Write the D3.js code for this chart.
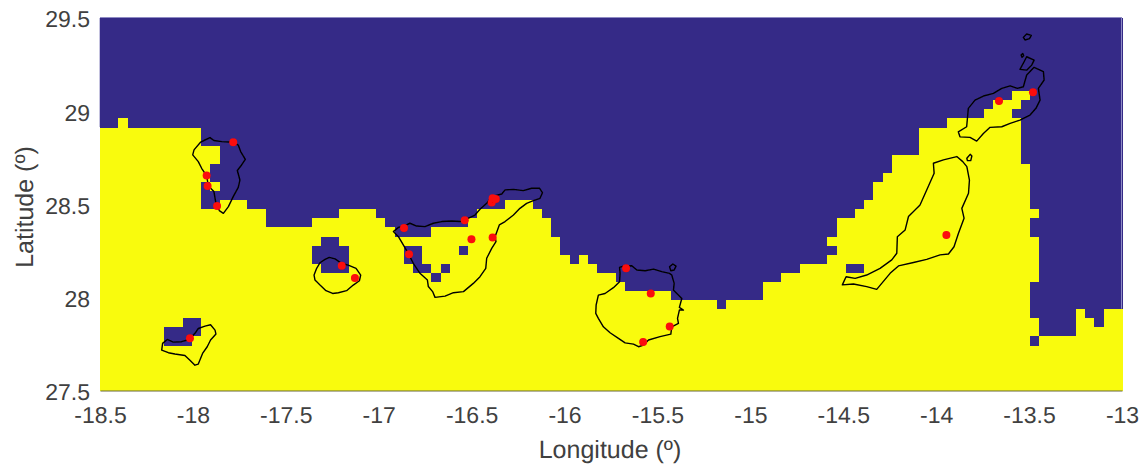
<!DOCTYPE html>
<html>
<head>
<meta charset="utf-8">
<script src="https://cdnjs.cloudflare.com/ajax/libs/d3/7.8.5/d3.min.js"></script>
<style>
html,body{margin:0;padding:0;background:#fff}
text{font-family:"Liberation Sans",Arial,sans-serif;fill:#404040;text-rendering:geometricPrecision}
</style>
</head>
<body>
<svg id="c" width="1143" height="464"></svg>
<script>
const lonTicks=[-18.5,-18,-17.5,-17,-16.5,-16,-15.5,-15,-14.5,-14,-13.5,-13];
const latTicks=[27.5,28,28.5,29,29.5];
const nCols=111,nRows=41;
// yellow cells per longitude column counted from the south edge
const yellowRows=[29,29,30,29,29,29,29,29,29,29,29,27,27,21,21,21,20,20,18,18,18,18,18,19,19,19,20,20,20,20,19,18,17,17,17,17,18,18,18,18,19,20,20,20,21,21,21,20,19,17,15,14,15,14,13,13,12,11,11,11,11,11,10,10,10,10,10,9,10,10,10,10,12,12,13,13,14,14,14,17,19,19,20,21,23,24,26,26,26,29,29,29,30,30,30,30,31,32,32,33,33,20,6,6,6,6,9,8,7,9,9];
// land-sea exceptions: [column, first row, last row exclusive]
const blueRuns=[[7,5,7],[8,5,7],[9,5,8],[10,6,8],[11,20,23],[12,20,22],[12,23,25],[23,14,16],[24,13,17],[25,13,17],[26,13,16],[33,14,16],[34,13,16],[35,13,14],[36,12,13],[37,13,14],[39,15,16],[79,15,16],[81,13,14],[82,13,14],[99,30,31],[100,25,32],[101,5,6],[101,8,12],[101,17,19]];
const laPalma=[[-17.958,28.834],[-17.935,28.845],[-17.908,28.858],[-17.887,28.842],[-17.845,28.836],[-17.783,28.833],[-17.756,28.818],[-17.743,28.783],[-17.718,28.741],[-17.738,28.711],[-17.761,28.681],[-17.747,28.630],[-17.756,28.591],[-17.783,28.541],[-17.809,28.487],[-17.836,28.451],[-17.858,28.466],[-17.876,28.505],[-17.887,28.568],[-17.917,28.598],[-17.926,28.652],[-17.953,28.693],[-17.971,28.729],[-18.001,28.765],[-17.994,28.792]];
const laGomera=[[-17.316,28.186],[-17.289,28.204],[-17.266,28.215],[-17.235,28.207],[-17.199,28.182],[-17.164,28.173],[-17.122,28.156],[-17.097,28.120],[-17.104,28.089],[-17.137,28.066],[-17.173,28.036],[-17.217,28.025],[-17.248,28.021],[-17.284,28.036],[-17.316,28.066],[-17.343,28.093],[-17.348,28.120],[-17.334,28.156]];
const elHierro=[[-18.168,27.717],[-18.163,27.753],[-18.138,27.774],[-18.106,27.760],[-18.061,27.762],[-18.019,27.774],[-17.989,27.807],[-17.971,27.833],[-17.935,27.846],[-17.905,27.853],[-17.881,27.824],[-17.876,27.803],[-17.905,27.771],[-17.923,27.735],[-17.948,27.699],[-17.971,27.642],[-17.989,27.636],[-18.016,27.663],[-18.043,27.688],[-18.097,27.696],[-18.132,27.703]];
const tenerife=[[-16.921,28.353],[-16.894,28.376],[-16.864,28.383],[-16.832,28.398],[-16.796,28.383],[-16.751,28.380],[-16.706,28.398],[-16.661,28.407],[-16.607,28.410],[-16.562,28.407],[-16.536,28.416],[-16.482,28.442],[-16.455,28.473],[-16.419,28.505],[-16.392,28.541],[-16.338,28.555],[-16.320,28.577],[-16.275,28.580],[-16.222,28.573],[-16.177,28.586],[-16.135,28.586],[-16.119,28.562],[-16.132,28.532],[-16.168,28.519],[-16.204,28.505],[-16.240,28.478],[-16.275,28.442],[-16.320,28.407],[-16.351,28.389],[-16.374,28.326],[-16.369,28.299],[-16.392,28.263],[-16.419,28.210],[-16.424,28.156],[-16.455,28.111],[-16.491,28.075],[-16.544,28.031],[-16.598,28.025],[-16.643,28.007],[-16.697,28.000],[-16.710,28.031],[-16.733,28.058],[-16.738,28.093],[-16.778,28.129],[-16.814,28.183],[-16.841,28.236],[-16.867,28.281],[-16.894,28.326]];
const granCanaria=[[-15.704,28.161],[-15.683,28.168],[-15.638,28.170],[-15.611,28.147],[-15.566,28.143],[-15.521,28.152],[-15.477,28.138],[-15.435,28.129],[-15.423,28.120],[-15.410,28.075],[-15.414,28.039],[-15.369,27.994],[-15.382,27.946],[-15.360,27.932],[-15.382,27.932],[-15.392,27.887],[-15.387,27.860],[-15.423,27.842],[-15.428,27.803],[-15.486,27.789],[-15.548,27.771],[-15.575,27.744],[-15.602,27.735],[-15.629,27.749],[-15.674,27.756],[-15.710,27.780],[-15.755,27.810],[-15.791,27.842],[-15.818,27.887],[-15.832,27.914],[-15.830,27.959],[-15.818,28.012],[-15.782,28.021],[-15.737,28.052],[-15.704,28.084],[-15.701,28.129]];
const laIsleta=[[-15.435,28.164],[-15.417,28.179],[-15.400,28.168],[-15.410,28.147],[-15.428,28.143]];
const fuerteventura=[[-14.015,28.720],[-13.961,28.738],[-13.889,28.756],[-13.857,28.729],[-13.835,28.702],[-13.821,28.630],[-13.826,28.559],[-13.862,28.478],[-13.850,28.425],[-13.880,28.344],[-13.904,28.272],[-13.934,28.233],[-13.979,28.228],[-14.051,28.204],[-14.122,28.187],[-14.203,28.169],[-14.248,28.129],[-14.320,28.043],[-14.374,28.058],[-14.445,28.072],[-14.505,28.067],[-14.485,28.111],[-14.436,28.102],[-14.374,28.120],[-14.302,28.156],[-14.239,28.201],[-14.212,28.237],[-14.209,28.326],[-14.167,28.362],[-14.149,28.434],[-14.087,28.496],[-14.051,28.577],[-14.011,28.666]];
const lobos=[[-13.835,28.747],[-13.817,28.768],[-13.808,28.759],[-13.814,28.734],[-13.832,28.734]];
const lanzarote=[[-13.881,28.889],[-13.836,28.916],[-13.827,29.015],[-13.791,29.059],[-13.746,29.081],[-13.692,29.095],[-13.647,29.122],[-13.602,29.136],[-13.563,29.122],[-13.531,29.131],[-13.513,29.194],[-13.473,29.235],[-13.423,29.212],[-13.419,29.167],[-13.450,29.122],[-13.441,29.059],[-13.463,29.015],[-13.495,28.979],[-13.549,28.952],[-13.602,28.934],[-13.647,28.916],[-13.710,28.913],[-13.746,28.880],[-13.782,28.839],[-13.818,28.859],[-13.872,28.862]];
const graciosa=[[-13.549,29.224],[-13.527,29.265],[-13.513,29.292],[-13.473,29.274],[-13.486,29.247],[-13.513,29.220]];
const montanaClara=[[-13.543,29.301],[-13.534,29.310],[-13.529,29.297],[-13.538,29.289]];
const alegranza=[[-13.531,29.396],[-13.513,29.414],[-13.488,29.407],[-13.498,29.389],[-13.522,29.382]];
const sites=[[-17.783,28.833],[-17.926,28.655],[-17.921,28.598],[-17.870,28.491],[-17.199,28.170],[-17.128,28.104],[-18.016,27.780],[-16.864,28.373],[-16.837,28.231],[-16.537,28.414],[-16.501,28.312],[-16.387,28.321],[-16.392,28.510],[-16.387,28.532],[-16.370,28.528],[-15.669,28.157],[-15.536,28.021],[-15.434,27.844],[-15.577,27.760],[-13.945,28.335],[-13.662,29.054],[-13.479,29.102]];

const x=d3.scaleLinear().domain([-18.5,-13]).range([100,1122]);
const y=d3.scaleLinear().domain([27.5,29.5]).range([390.5,18]);
const colX=d3.scaleLinear().domain([0,nCols]).range(x.domain());
const rowY=d3.scaleLinear().domain([0,nRows]).range(y.domain());
const color=d3.scaleOrdinal().domain([0,1]).range(["#352a87","#f9fb0e"]);

const cells=[];
yellowRows.forEach((h,c)=>{ for(let r=0;r<nRows;r++){
  const sea=r>=h||blueRuns.some(b=>b[0]===c&&r>=b[1]&&r<b[2]);
  cells.push({c,r,v:sea?0:1});
}});
const svg=d3.select("#c");
const soft=svg.append("defs").append("filter").attr("id","soft").attr("x","-2%").attr("y","-2%").attr("width","104%").attr("height","104%");
soft.append("feGaussianBlur").attr("stdDeviation",0.35);
const plot=svg.append("g").attr("filter","url(#soft)");
plot.append("g").attr("shape-rendering","crispEdges").selectAll("rect").data(cells).join("rect")
  .attr("x",d=>x(colX(d.c))).attr("y",d=>y(rowY(d.r+1)))
  .attr("width",d=>x(colX(d.c+1))-x(colX(d.c))+0.5)
  .attr("height",d=>y(rowY(d.r))-y(rowY(d.r+1))+0.5)
  .attr("fill",d=>color(d.v));

const line=d3.line().x(d=>x(d[0])).y(d=>y(d[1])).curve(d3.curveLinearClosed);
plot.append("g").selectAll("path").data([laPalma,laGomera,elHierro,tenerife,granCanaria,laIsleta,fuerteventura,lobos,lanzarote,graciosa,montanaClara,alegranza]).join("path")
  .attr("d",line).attr("fill","none").attr("stroke","#000").attr("stroke-width",1.4).attr("stroke-linejoin","round");

plot.append("g").selectAll("circle").data(sites).join("circle")
  .attr("cx",d=>x(d[0])).attr("cy",d=>y(d[1])).attr("r",4).attr("fill","#fb0808");

const ax=svg.append("g").attr("transform","translate(0,390.5)").call(d3.axisBottom(x).tickValues(lonTicks).tickSize(0).tickFormat(d=>String(d)));
const ay=svg.append("g").attr("transform","translate(100,0)").call(d3.axisLeft(y).tickValues(latTicks).tickSize(0).tickFormat(d=>String(d)));
ax.select(".domain").attr("stroke","#66663c").attr("stroke-width",1);
ay.select(".domain").remove();
ax.selectAll("text").attr("font-size",23).attr("y",16.5).attr("fill","#404040");
ay.selectAll("text").attr("font-size",23).attr("x",-10).attr("dy","0.39em").attr("fill","#404040");
// light box edges visible only over the sea colour
const edge="#8f8bc4";
svg.append("line").attr("x1",x(-18.5)).attr("x2",x(-13)).attr("y1",y(29.5)-0.5).attr("y2",y(29.5)-0.5).attr("stroke",edge);
svg.append("line").attr("x1",x(-13)-0.5).attr("x2",x(-13)-0.5).attr("y1",y(29.5)).attr("y2",y(rowY(yellowRows[nCols-1]))).attr("stroke",edge);
svg.append("line").attr("x1",x(-18.5)-0.5).attr("x2",x(-18.5)-0.5).attr("y1",y(29.5)).attr("y2",y(rowY(yellowRows[0]))).attr("stroke","#c4c2df");
svg.append("text").attr("x",610).attr("y",458).attr("text-anchor","middle").attr("font-size",25).text("Longitude (º)");
svg.append("text").attr("transform","translate(33,207) rotate(-90)").attr("text-anchor","middle").attr("font-size",25).text("Latitude (º)");
</script>
</body>
</html>
